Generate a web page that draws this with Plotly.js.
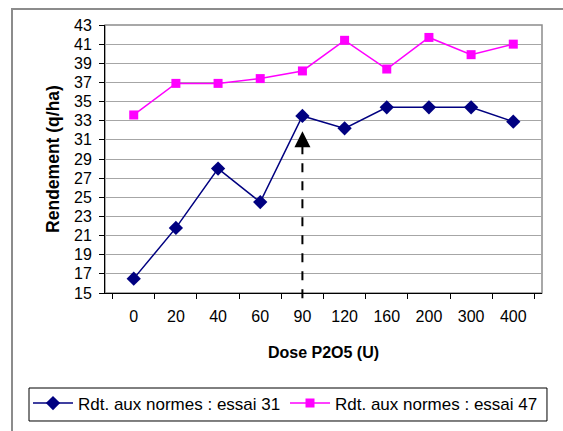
<!DOCTYPE html>
<html>
<head>
<meta charset="utf-8">
<script src="https://cdn.plot.ly/plotly-3.0.1.min.js"></script>
<style>html,body{margin:0;padding:0;background:#fff;}#chart{width:563px;height:431px;}</style>
</head>
<body>
<div id="chart"></div>
<script>
var doses = ["0", "20", "40", "60", "90", "120", "160", "200", "300", "400"];
var essai31 = [16.5, 21.8, 28.0, 24.5, 33.5, 32.2, 34.4, 34.4, 34.4, 32.9];
var essai47 = [33.6, 36.9, 36.9, 37.4, 38.2, 41.4, 38.4, 41.7, 39.9, 41.0];
var seriesNames = ["Rdt. aux normes : essai 31", "Rdt. aux normes : essai 47"];
var arrowDose = "90";
var arrowTip = 31.9;
var arrowBase = 30.6;

var FONT = "Arial, 'Liberation Sans', sans-serif";
var arrowIdx = doses.indexOf(arrowDose);

var traces = [
  {
    x: doses, y: essai31, name: seriesNames[0], type: "scatter", mode: "lines+markers",
    line: {color: "#000080", width: 1.5},
    marker: {symbol: "diamond", size: 11, color: "#000080"},
    cliponaxis: false, legend: "legend"
  },
  {
    x: doses, y: essai47, name: seriesNames[1], type: "scatter", mode: "lines+markers",
    line: {color: "#FF00FF", width: 1.5},
    marker: {symbol: "square", size: 9, color: "#FF00FF"},
    cliponaxis: false, legend: "legend2"
  }
];

function legendAt(xp) {
  return {
    orientation: "h", xref: "container", yref: "container",
    x: xp, y: 0.1056, xanchor: "left", yanchor: "top",
    borderwidth: 0, bgcolor: "rgba(0,0,0,0)",
    font: {family: FONT, size: 17, color: "#000"},
    itemwidth: 40, tracegroupgap: 0
  };
}

var layout = {
  width: 563, height: 431,
  margin: {l: 105, r: 21, t: 25, b: 138},
  paper_bgcolor: "#ffffff", plot_bgcolor: "#ffffff",
  font: {family: FONT, size: 16, color: "#000"},
  showlegend: true,
  legend: legendAt(28 / 563),
  legend2: legendAt(285 / 563),
  xaxis: {
    type: "category", categoryorder: "array", categoryarray: doses,
    showline: true, linecolor: "#000", linewidth: 1,
    ticks: "outside", ticklen: 5, tickcolor: "#000", tickson: "boundaries",
    showgrid: false, zeroline: false, automargin: false,
    tickfont: {family: FONT, size: 16, color: "#000"},
    ticklabelstandoff: 9,
    title: {text: "Dose P2O5 (U)", font: {family: FONT, size: 16, color: "#000", weight: "bold"}, standoff: 22},
    fixedrange: true
  },
  yaxis: {
    range: [15, 43], dtick: 2, tick0: 15,
    showline: true, linecolor: "#000", linewidth: 1,
    ticks: "outside", ticklen: 5, tickcolor: "#000",
    showgrid: true, gridcolor: "#a6a6a6", gridwidth: 1, zeroline: false, automargin: false,
    tickfont: {family: FONT, size: 16, color: "#000"},
    ticklabelstandoff: 4,
    title: {text: "Rendement (q/ha)", font: {family: FONT, size: 17.5, color: "#000", weight: "bold"}, standoff: 9.5},
    fixedrange: true
  },
  shapes: [
    {type: "rect", xref: "paper", yref: "paper", x0: -0.2128, x1: 1.1, y0: -0.6, y1: 1.0597,
     line: {color: "#8c8c8c", width: 2}, fillcolor: "rgba(0,0,0,0)", layer: "below"},
    {type: "rect", xref: "paper", yref: "paper", x0: 0, x1: 1, y0: 0, y1: 1,
     line: {color: "#8c8c8c", width: 1.5}, fillcolor: "rgba(0,0,0,0)", layer: "below"},
    {type: "rect", xref: "paper", yref: "paper", x0: -0.1739, x1: 1.0114, y0: -0.4776, y1: -0.3545,
     line: {color: "#000", width: 1}, fillcolor: "rgba(0,0,0,0)", layer: "below"},
    {type: "line", xref: "x", yref: "paper", x0: arrowIdx, x1: arrowIdx,
     y0: -0.02, y1: (arrowBase - 15) / 28,
     line: {color: "#000", width: 2, dash: "dash"}}
  ],
  annotations: [
    {x: arrowIdx, y: arrowTip, xref: "x", yref: "y", axref: "x", ayref: "y",
     ax: arrowIdx, ay: arrowBase - 0.3, text: "", showarrow: true,
     arrowhead: 2, arrowsize: 1.6, arrowwidth: 2, arrowcolor: "#000", standoff: 0}
  ]
};

Plotly.newPlot("chart", traces, layout, {displayModeBar: false, staticPlot: true});
</script>
</body>
</html>
